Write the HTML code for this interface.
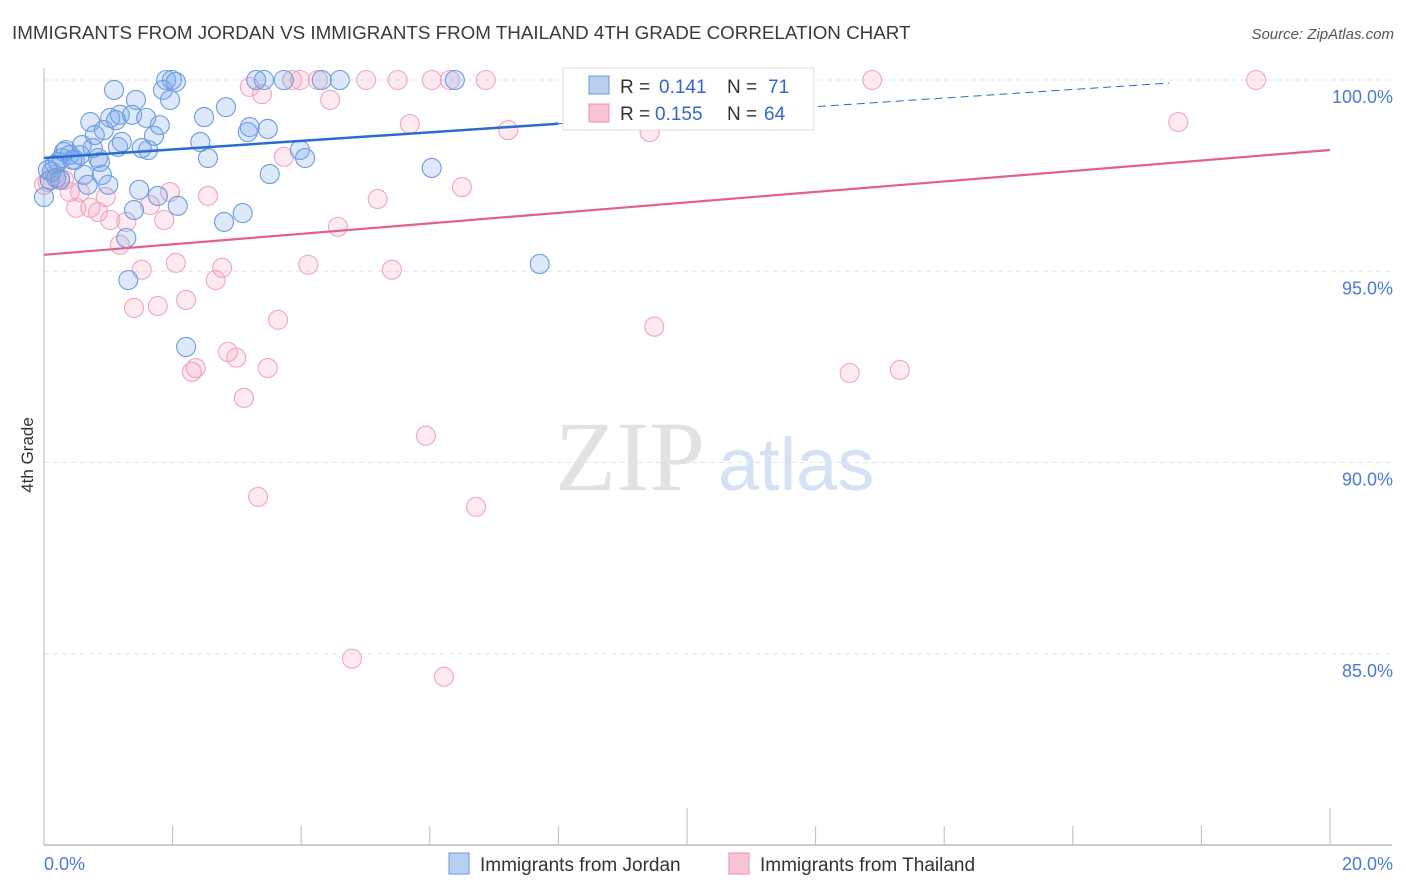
<!DOCTYPE html>
<html><head><meta charset="utf-8">
<style>
body{margin:0;background:#fff;font-family:"Liberation Sans",sans-serif;}
#wrap{position:relative;width:1406px;height:892px;overflow:hidden;}
</style></head>
<body>
<div id="wrap">
<svg id="chart" width="1406" height="892">
  <text x="12" y="39" font-size="18.8" fill="#3a3a3a">IMMIGRANTS FROM JORDAN VS IMMIGRANTS FROM THAILAND 4TH GRADE CORRELATION CHART</text>
  <text x="1394" y="39" font-size="15" fill="#555" font-style="italic" text-anchor="end">Source: ZipAtlas.com</text>
  <text x="33" y="455" font-size="17" fill="#333" transform="rotate(-90 33 455)" text-anchor="middle">4th Grade</text>
  <g id="grid"></g>
  <text x="555" y="490" font-size="100" fill="#e2e2e2" font-family="Liberation Serif,serif">ZIP</text>
  <text x="718" y="490" font-size="74" fill="#d4e2f4">atlas</text>
  <g id="pts"></g>
  <g id="lines"></g>
  <g>
    <rect x="563" y="68" width="251" height="62" fill="#fff" stroke="#ddd"/>
    <rect x="589" y="76" width="20" height="18" fill="#b8d0f0" stroke="#6a98d8"/>
    <text x="620" y="93" font-size="19" fill="#333">R =</text>
    <text x="659" y="93" font-size="19" fill="#3366cc">0.141</text>
    <text x="727" y="93" font-size="19" fill="#333">N =</text>
    <text x="768" y="93" font-size="19" fill="#3366cc">71</text>
    <rect x="589" y="104" width="20" height="18" fill="#f8c4d4" stroke="#e890aa"/>
    <text x="620" y="120" font-size="19" fill="#333">R =</text>
    <text x="655" y="120" font-size="19" fill="#3366cc">0.155</text>
    <text x="727" y="120" font-size="19" fill="#333">N =</text>
    <text x="764" y="120" font-size="19" fill="#3366cc">64</text>
  </g>
  <g>
    <rect x="449" y="853" width="20" height="21" fill="#b8d0f0" stroke="#6a98d8"/>
    <text x="480" y="871" font-size="19" fill="#333">Immigrants from Jordan</text>
    <rect x="729" y="853" width="20" height="21" fill="#f8c4d4" stroke="#e890aa"/>
    <text x="760" y="871" font-size="19" fill="#333">Immigrants from Thailand</text>
  </g>
</svg>
</div>
<script>
const yTicks=[100,95,90,85];
const xLabels=["0.0%","20.0%"];
const jordanX=[0,0.09,0.12,0.17,0.22,0.28,0.34,0.40,0.48,0.56,0.62,0.68,0.72,0.76,0.79,0.84,0.87,0.93,1.00,1.03,1.09,1.15,1.18,1.21,1.28,1.31,1.37,1.40,1.43,1.48,1.52,1.59,1.62,1.71,1.77,1.80,1.85,1.90,1.96,1.99,2.05,2.08,2.21,2.43,2.49,2.55,2.80,2.83,3.09,3.17,3.20,3.30,3.42,3.48,3.51,3.73,3.98,4.06,4.32,4.60,6.03,6.39,7.71,0.06,0.19,0.25,0.31,0.44,0.59,0.90,1.12];
const jordanY=[96.94,97.39,97.60,97.78,97.86,97.96,98.17,98.04,97.91,98.04,97.52,97.26,98.90,98.22,98.56,97.96,97.86,98.69,97.26,99.01,99.74,98.25,99.09,98.38,95.87,94.77,99.09,96.60,99.48,97.13,98.22,99.01,98.17,98.54,96.97,98.82,99.74,100,99.48,100,99.95,96.71,93.02,98.38,99.03,97.96,96.29,99.29,96.52,98.64,98.77,100,100,98.72,97.54,100,98.17,97.96,100,100,97.70,100,95.19,97.65,97.44,97.39,98.12,97.91,98.30,97.52,98.95];
const thaiX=[0,0.06,0.17,0.25,0.31,0.40,0.50,0.56,0.72,0.84,0.96,1.03,1.18,1.28,1.40,1.52,1.65,1.77,1.87,1.96,2.05,2.21,2.30,2.36,2.55,2.67,2.77,2.86,2.99,3.11,3.20,3.33,3.39,3.48,3.64,3.73,3.86,3.98,4.11,4.26,4.45,4.57,4.79,5.01,5.19,5.41,5.50,5.69,5.94,6.03,6.22,6.31,6.50,6.72,6.87,7.22,9.42,9.49,11.38,12.53,12.88,13.31,17.64,18.85];
const thaiY=[97.26,97.33,97.52,97.44,97.39,97.07,96.66,97.07,96.66,96.55,96.94,96.34,95.69,96.29,94.04,95.04,96.73,94.09,96.34,97.07,95.22,94.25,92.37,92.47,96.97,94.77,95.09,92.89,92.74,91.69,99.82,89.10,99.63,92.47,93.73,97.99,100,100,95.17,100,99.48,96.16,84.87,100,96.89,95.04,100,98.85,90.70,100,84.40,100,97.20,88.84,100,98.69,98.64,93.55,100,92.34,100,92.42,98.90,100];
const jordanTrend=[97.96,100.2];
const thaiTrend=[95.43,98.17];
const xMin=0,xMax=20,yMin=80,yMax=100;
const sx=v=>44+(v-xMin)/(xMax-xMin)*1286;
const sy=v=>80+(yMax-v)/(yMax-yMin)*765;
const NS="http://www.w3.org/2000/svg";
function mk(tag,attrs,parent){const e=document.createElementNS(NS,tag);for(const k in attrs)e.setAttribute(k,attrs[k]);parent.appendChild(e);return e;}
const grid=document.getElementById('grid');
yTicks.forEach(t=>{
  const l=mk('line',{x1:44,x2:1392,y1:sy(t),y2:sy(t),stroke:'#e4e4e4','stroke-dasharray':'5,4'},grid);
  
  
  const tx=mk('text',{x:1393,y:sy(t)+23,'font-size':18,fill:'#4a7ad6','text-anchor':'end'},grid);
  tx.textContent=t.toFixed(1)+'%';
  
  
});
let ax=mk('line',{x1:44,x2:44,y1:68,y2:845,stroke:'#bbb'},grid);


let bx=mk('line',{x1:44,x2:1392,y1:845,y2:845,stroke:'#bbb','stroke-width':1.5},grid);


for(let i=0;i<=10;i++){
  const v=i*2;const tall=(i==5||i==10);
  const t=mk('line',{x1:sx(v),x2:sx(v),y1:tall?808:826,y2:845,stroke:'#bbb'},grid);
  
  
}
const xl0=mk('text',{x:44,y:870,'font-size':18,fill:'#4a7ad6'},grid);xl0.textContent=xLabels[0];


const xl1=mk('text',{x:1393,y:870,'font-size':18,fill:'#4a7ad6','text-anchor':'end'},grid);xl1.textContent=xLabels[1];


const pts=document.getElementById('pts');
thaiX.forEach((x,i)=>{
  const c=mk('circle',{cx:sx(x),cy:sy(thaiY[i]),r:9.5,fill:'rgba(245,160,188,0.22)',stroke:'#efa6bd','stroke-width':1.1},pts);
  
  
});
jordanX.forEach((x,i)=>{
  const c=mk('circle',{cx:sx(x),cy:sy(jordanY[i]),r:9.5,fill:'rgba(120,168,232,0.25)',stroke:'#6d9be0','stroke-width':1.1},pts);
  
  
});
const lines=document.getElementById('lines');
const jAt=x=>jordanTrend[0]+(jordanTrend[1]-jordanTrend[0])*x/20;
const tAt=x=>thaiTrend[0]+(thaiTrend[1]-thaiTrend[0])*x/20;
let l1=mk('line',{x1:sx(0),y1:sy(jAt(0)),x2:sx(8),y2:sy(jAt(8)),stroke:'#2a6ad4','stroke-width':2.5},lines);


let l2=mk('line',{x1:sx(8),y1:sy(jAt(8)),x2:sx(17.5),y2:sy(jAt(17.5)),stroke:'#2a6ad4','stroke-width':1,'stroke-dasharray':'8,5'},lines);


let l3=mk('line',{x1:sx(0),y1:sy(tAt(0)),x2:sx(20),y2:sy(tAt(20)),stroke:'#e2608a','stroke-width':2.2},lines);


</script>
</body></html>
